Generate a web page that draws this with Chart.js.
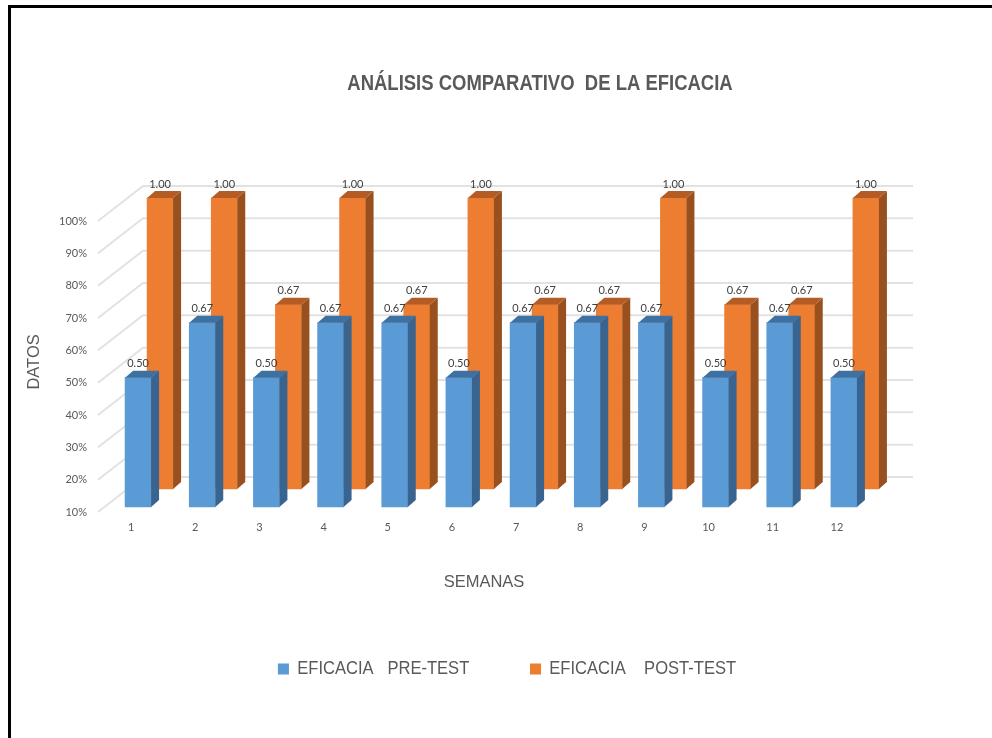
<!DOCTYPE html>
<html>
<head>
<meta charset="utf-8">
<style>
  html, body { margin: 0; padding: 0; background: #fff; overflow: hidden; }
  #frame { position: absolute; left: 8px; top: 5px; width: 990px; height: 740px; border-left: 3px solid #000; border-top: 3px solid #000; }
  #chart { position: absolute; left: 0; top: 0; }
</style>
<script src="https://cdn.jsdelivr.net/npm/chart.js@4/dist/chart.umd.min.js"></script>
</head>
<body>
<div id="frame"></div>
<canvas id="chart" width="992" height="738"></canvas>
<script>
// data
const semanas = ['1', '2', '3', '4', '5', '6', '7', '8', '9', '10', '11', '12'];
const preTest = [0.50, 0.67, 0.50, 0.67, 0.67, 0.50, 0.67, 0.67, 0.67, 0.50, 0.67, 0.50];
const postTest = [1.00, 1.00, 0.67, 1.00, 0.67, 1.00, 0.67, 0.67, 1.00, 0.67, 0.67, 1.00];

const sans = '"Liberation Sans", sans-serif';
const grey = '#595959';

// fake 3d: each series sits at its own depth, and has a side + top face
const wall = { x: 44, y: -35 };
const faces = { x: 8, y: -7 };
const depth = [
  { x: 7, y: -5, side: '#38648f', top: '#3e70a1' },
  { x: 29, y: -23, side: '#98501f', top: '#b45c23' }
];

// no narrow font here, so squeeze the box horizontally around its centre
function condense(box, factor) {
  if (box.condensed) return;
  box.condensed = true;
  const draw = box.draw;
  box.draw = function () {
    const ctx = box.ctx;
    const cx = (box.left + box.right) / 2;
    ctx.save();
    ctx.translate(cx, 0);
    ctx.scale(factor, 1);
    ctx.translate(-cx, 0);
    draw.apply(box, arguments);
    ctx.restore();
  };
}

const fake3d = {
  id: 'fake3d',
  afterLayout(chart) {
    // title and legend are not centred on the plot in the original
    const t = chart.titleBlock;
    t.left = 88;
    t.right = 992;
    condense(t, 0.84);
    const l = chart.legend;
    l.left = 22;
    l.right = 992;
    l.top = 669 - l.options.labels.padding - 9;
    condense(l, 0.92);
  },
  beforeDatasetsDraw(chart) {
    const { ctx, chartArea, scales } = chart;
    ctx.save();
    ctx.strokeStyle = '#e2e2e2';
    ctx.lineWidth = 2;
    scales.y.ticks.forEach(tick => {
      const y = scales.y.getPixelForValue(tick.value);
      ctx.beginPath();
      ctx.moveTo(chartArea.left - 1, y);
      ctx.lineTo(chartArea.left + wall.x, y + wall.y);
      ctx.lineTo(chartArea.right + wall.x, y + wall.y);
      ctx.stroke();
    });
    ctx.restore();
  },
  beforeDatasetDraw(chart, args) {
    const d = depth[args.index];
    chart.ctx.save();
    chart.ctx.translate(d.x, d.y);
  },
  afterDatasetDraw(chart, args) {
    const ctx = chart.ctx;
    const d = depth[args.index];
    args.meta.data.forEach(bar => {
      const right = bar.x + bar.width / 2;
      const left = bar.x - bar.width / 2;
      ctx.fillStyle = d.side;
      ctx.beginPath();
      ctx.moveTo(right, bar.y);
      ctx.lineTo(right + faces.x, bar.y + faces.y);
      ctx.lineTo(right + faces.x, bar.base + faces.y);
      ctx.lineTo(right, bar.base);
      ctx.fill();
      ctx.fillStyle = d.top;
      ctx.beginPath();
      ctx.moveTo(left, bar.y);
      ctx.lineTo(left + faces.x, bar.y + faces.y);
      ctx.lineTo(right + faces.x, bar.y + faces.y);
      ctx.lineTo(right, bar.y);
      ctx.fill();
    });
    ctx.restore();
  },
  afterDatasetsDraw(chart) {
    const ctx = chart.ctx;
    ctx.save();
    ctx.fillStyle = '#404040';
    ctx.font = '11px Lato';
    ctx.textAlign = 'center';
    ctx.textBaseline = 'middle';
    [1, 0].forEach(i => {
      const values = chart.data.datasets[i].data;
      chart.getDatasetMeta(i).data.forEach((bar, n) => {
        ctx.fillText(values[n].toFixed(2), bar.x + depth[i].x, bar.y + depth[i].y - 14);
      });
    });
    ctx.restore();
  }
};

new Chart(document.getElementById('chart'), {
  type: 'bar',
  data: {
    labels: semanas,
    datasets: [
      { label: 'EFICACIA   PRE-TEST', data: preTest, backgroundColor: '#5b9bd5' },
      { label: 'EFICACIA    POST-TEST', data: postTest, backgroundColor: '#ed7d31' }
    ]
  },
  options: {
    responsive: false,
    animation: false,
    layout: { padding: { right: 123 } },
    datasets: {
      bar: { base: 0.1, barThickness: 26, grouped: false, clip: false }
    },
    plugins: {
      tooltip: { enabled: false },
      title: {
        display: true,
        text: 'ANÁLISIS COMPARATIVO  DE LA EFICACIA',
        color: grey,
        font: { family: sans, size: 22, weight: 'bold', lineHeight: 1.2 },
        padding: { top: 71, bottom: 123.6 }
      },
      legend: {
        position: 'bottom',
        labels: {
          color: grey,
          font: { family: sans, size: 18 },
          boxWidth: 12,
          boxHeight: 11,
          padding: 66
        }
      }
    },
    scales: {
      x: {
        grid: { display: false },
        border: { display: false },
        ticks: { color: grey, font: { family: 'Lato', size: 11 }, padding: 1, maxRotation: 0 },
        title: {
          display: true,
          text: 'SEMANAS',
          color: grey,
          font: { family: sans, size: 16.5 },
          padding: { top: 0, bottom: 52 }
        },
        afterFit: s => { s.height = 132; }
      },
      y: {
        min: 0.1,
        max: 1,
        grid: { display: false },
        border: { display: false },
        ticks: {
          stepSize: 0.1,
          color: grey,
          font: { family: 'Lato', size: 11 },
          padding: 4,
          callback: v => Math.round(v * 100) + '%'
        },
        title: {
          display: true,
          text: '  DATOS',
          color: grey,
          font: { family: sans, size: 16.5 },
          padding: { top: 25, bottom: 0 }
        },
        afterFit: s => { s.width = 99; }
      }
    }
  },
  plugins: [fake3d]
});
</script>
</body>
</html>
